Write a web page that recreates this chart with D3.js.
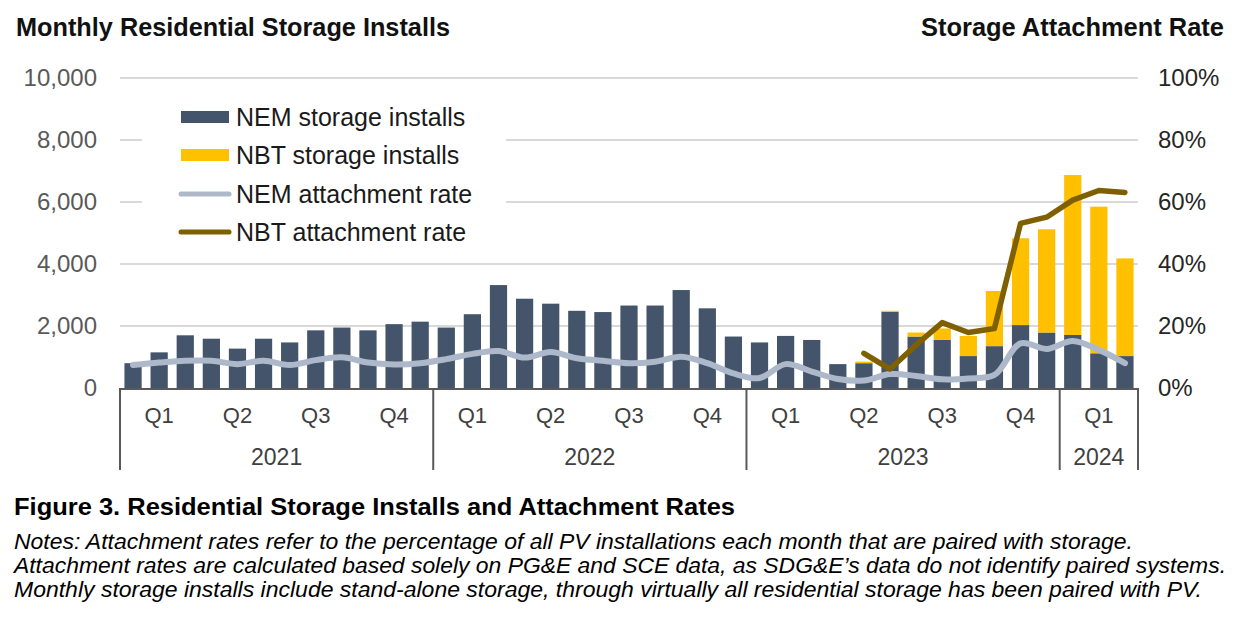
<!DOCTYPE html>
<html>
<head>
<meta charset="utf-8">
<script src="https://cdn.jsdelivr.net/npm/d3@7"></script>
<style>
  html, body { margin: 0; padding: 0; background: #fff; }
  svg { display: block; font-family: "Liberation Sans", Arial, sans-serif; }
</style>
</head>
<body>
<svg id="chart" width="1252" height="618"></svg>
<script>
// ---------- DATA ----------
const months = [
  "2021-01","2021-02","2021-03","2021-04","2021-05","2021-06","2021-07","2021-08","2021-09","2021-10","2021-11","2021-12",
  "2022-01","2022-02","2022-03","2022-04","2022-05","2022-06","2022-07","2022-08","2022-09","2022-10","2022-11","2022-12",
  "2023-01","2023-02","2023-03","2023-04","2023-05","2023-06","2023-07","2023-08","2023-09","2023-10","2023-11","2023-12",
  "2024-01","2024-02","2024-03"
];
const nemInstalls = [
  800,1150,1700,1590,1270,1590,1470,1860,1950,1860,2060,2140,
  1950,2380,3320,2880,2720,2490,2450,2660,2660,3160,2570,1660,
  1470,1680,1550,770,800,2460,1660,1550,1030,1350,2030,1790,
  1710,1120,1030
];
const nbtInstalls = [
  0,0,0,0,0,0,0,0,0,0,0,0,
  0,0,0,0,0,0,0,0,0,0,0,0,
  0,0,0,0,50,30,130,370,650,1780,2800,3330,
  5160,4730,3150
];
const nemRate = [
  7.4,8.2,8.8,8.8,7.7,8.8,7.4,9.0,9.9,8.2,7.6,8.0,
  9.3,11.0,11.9,9.8,11.6,9.6,8.8,8.0,8.5,10.1,8.0,4.7,
  3.2,7.7,5.3,2.9,2.4,4.5,3.9,2.8,3.1,4.2,14.4,12.6,
  15.2,12.3,8.0
];
const nbtRate = [
  null,null,null,null,null,null,null,null,null,null,null,null,
  null,null,null,null,null,null,null,null,null,null,null,null,
  null,null,null,null,11.2,6.1,13.9,21.1,17.9,19.2,53.1,55.1,
  60.6,63.7,63.1
];
const leftTicks = [0,2000,4000,6000,8000,10000];
const rightTicks = [0,20,40,60,80,100];
const quarterLabels = ["Q1","Q2","Q3","Q4"];
const years = ["2021","2022","2023","2024"];
const seriesNames = ["NEM storage installs","NBT storage installs","NEM attachment rate","NBT attachment rate"];
const headerLeft = "Monthly Residential Storage Installs";
const headerRight = "Storage Attachment Rate";
const figTitle = "Figure 3. Residential Storage Installs and Attachment Rates";
const notes = [
  "Notes: Attachment rates refer to the percentage of all PV installations each month that are paired with storage.",
  "Attachment rates are calculated based solely on PG&E and SCE data, as SDG&E\u2019s data do not identify paired systems.",
  "Monthly storage installs include stand-alone storage, through virtually all residential storage has been paired with PV."
];

// ---------- STYLE ----------
const C = { nem:"#44546A", nbt:"#FFC000", nemLine:"#ADB9CA", nbtLine:"#7F6000", grid:"#D9D9D9", axis:"#595959" };
const L = 120, R = 1138, T = 78, B = 388;

const svg = d3.select("#chart");

const x = d3.scaleBand().domain(months).range([L, R]).paddingInner(0.34).paddingOuter(0.17);
const yL = d3.scaleLinear().domain([0,10000]).range([B, T]);
const yR = d3.scaleLinear().domain([0,100]).range([B, T]);
const step = x.step(), bw = x.bandwidth();
const gapHalf = (step - bw) / 2;

// gridlines
svg.append("g").selectAll("line").data(leftTicks.filter(d => d > 0)).join("line")
  .attr("x1", L).attr("x2", R)
  .attr("y1", d => yL(d)).attr("y2", d => yL(d))
  .attr("stroke", C.grid).attr("stroke-width", 2);

// left axis
const gL = svg.append("g").attr("transform", `translate(${L},0)`)
  .call(d3.axisLeft(yL).tickValues(leftTicks).tickFormat(d3.format(",")).tickSize(0).tickPadding(23));
gL.select(".domain").remove();
gL.selectAll("text").attr("font-size", 24).attr("fill", "#595959").attr("font-family", "Liberation Sans, Arial, sans-serif");

// right axis
const gR = svg.append("g").attr("transform", `translate(${R},0)`)
  .call(d3.axisRight(yR).tickValues(rightTicks).tickFormat(d => d + "%").tickSize(0).tickPadding(20));
gR.select(".domain").remove();
gR.selectAll("text").attr("font-size", 24).attr("fill", "#262626").attr("font-family", "Liberation Sans, Arial, sans-serif");

// stacked bars
const rows = months.map((m, i) => ({ m, nem: nemInstalls[i], nbt: nbtInstalls[i] }));
const stack = d3.stack().keys(["nem","nbt"])(rows);
svg.append("g").selectAll("g").data(stack).join("g")
  .attr("fill", d => d.key === "nem" ? C.nem : C.nbt)
  .selectAll("rect").data(d => d).join("rect")
  .attr("x", d => x(d.data.m))
  .attr("width", bw)
  .attr("y", d => yL(d[1]))
  .attr("height", d => Math.max(0, yL(d[0]) - yL(d[1])));

// lines
const nemLine = d3.line().x((d, i) => x(months[i]) + bw/2).y(d => yR(d)).curve(d3.curveCatmullRom.alpha(0.5));
svg.append("path").datum(nemRate).attr("d", nemLine)
  .attr("fill", "none").attr("stroke", C.nemLine).attr("stroke-width", 6)
  .attr("stroke-linecap", "round").attr("stroke-linejoin", "round");

const nbtPts = nbtRate.map((v, i) => ({ m: months[i], v })).filter(d => d.v !== null);
const nbtLine = d3.line().x(d => x(d.m) + bw/2).y(d => yR(d.v)).curve(d3.curveLinear);
svg.append("path").datum(nbtPts).attr("d", nbtLine)
  .attr("fill", "none").attr("stroke", C.nbtLine).attr("stroke-width", 5.5)
  .attr("stroke-linecap", "round").attr("stroke-linejoin", "round");

// category axis (multi-level)
const axG = svg.append("g");
axG.append("line").attr("x1", L).attr("x2", R).attr("y1", B + 1).attr("y2", B + 1)
  .attr("stroke", C.axis).attr("stroke-width", 2);
const yearStartIdx = years.map(y => months.findIndex(m => m.startsWith(y)));
const boundaries = yearStartIdx.map(i => x(months[i]) - gapHalf).concat([R]);
axG.selectAll("line.sep").data(boundaries).join("line").attr("class", "sep")
  .attr("x1", d => d).attr("x2", d => d).attr("y1", B).attr("y2", 470)
  .attr("stroke", C.axis).attr("stroke-width", 2);
const quarters = [];
years.forEach(y => {
  quarterLabels.forEach((q, qi) => {
    const ms = months.filter(m => m.startsWith(y) && Math.floor((+m.slice(5) - 1) / 3) === qi);
    if (ms.length) quarters.push({ q, cx: (x(ms[0]) + x(ms[ms.length-1]) + bw) / 2 });
  });
});
axG.selectAll("text.q").data(quarters).join("text").attr("class", "q")
  .attr("x", d => d.cx).attr("y", 423).attr("text-anchor", "middle")
  .attr("font-size", 22).attr("fill", "#404040").text(d => d.q);
axG.selectAll("text.yr").data(years).join("text").attr("class", "yr")
  .attr("x", (d, i) => (boundaries[i] + boundaries[i+1]) / 2).attr("y", 465).attr("text-anchor", "middle")
  .attr("font-size", 23).attr("fill", "#404040").text(d => d);

// legend
const lg = svg.append("g");
lg.append("rect").attr("x", 142).attr("y", 94).attr("width", 364).attr("height", 160).attr("fill", "#fff");
const legRows = [117, 155, 194, 232];
seriesNames.forEach((name, i) => {
  const cy = legRows[i];
  if (i < 2) {
    lg.append("rect").attr("x", 181).attr("y", cy - 6).attr("width", 48).attr("height", 12)
      .attr("fill", i === 0 ? C.nem : C.nbt);
  } else {
    lg.append("line").attr("x1", 181).attr("x2", 229).attr("y1", cy).attr("y2", cy)
      .attr("stroke", i === 2 ? C.nemLine : C.nbtLine).attr("stroke-width", 5).attr("stroke-linecap", "round");
  }
  lg.append("text").attr("x", 236).attr("y", cy + 8.5).attr("font-size", 25).attr("fill", "#1a1a1a").text(name);
});

// headers
svg.append("text").attr("x", 16).attr("y", 36).attr("font-size", 25).attr("font-weight", "bold")
  .attr("fill", "#111").attr("textLength", 434).attr("lengthAdjust", "spacingAndGlyphs").text(headerLeft);
svg.append("text").attr("x", 921).attr("y", 36).attr("font-size", 25).attr("font-weight", "bold")
  .attr("fill", "#111").attr("textLength", 303).attr("lengthAdjust", "spacingAndGlyphs").text(headerRight);

// caption
svg.append("text").attr("x", 14).attr("y", 515).attr("font-size", 23.5).attr("font-weight", "bold")
  .attr("fill", "#000").attr("textLength", 721).attr("lengthAdjust", "spacingAndGlyphs").text(figTitle);
const noteWidths = [1119, 1212, 1188];
notes.forEach((t, i) => {
  svg.append("text").attr("x", 14).attr("y", 548.5 + i * 24).attr("font-size", 21.5).attr("font-style", "italic")
    .attr("fill", "#000").attr("textLength", noteWidths[i]).attr("lengthAdjust", "spacingAndGlyphs").text(t);
});
</script>
</body>
</html>
